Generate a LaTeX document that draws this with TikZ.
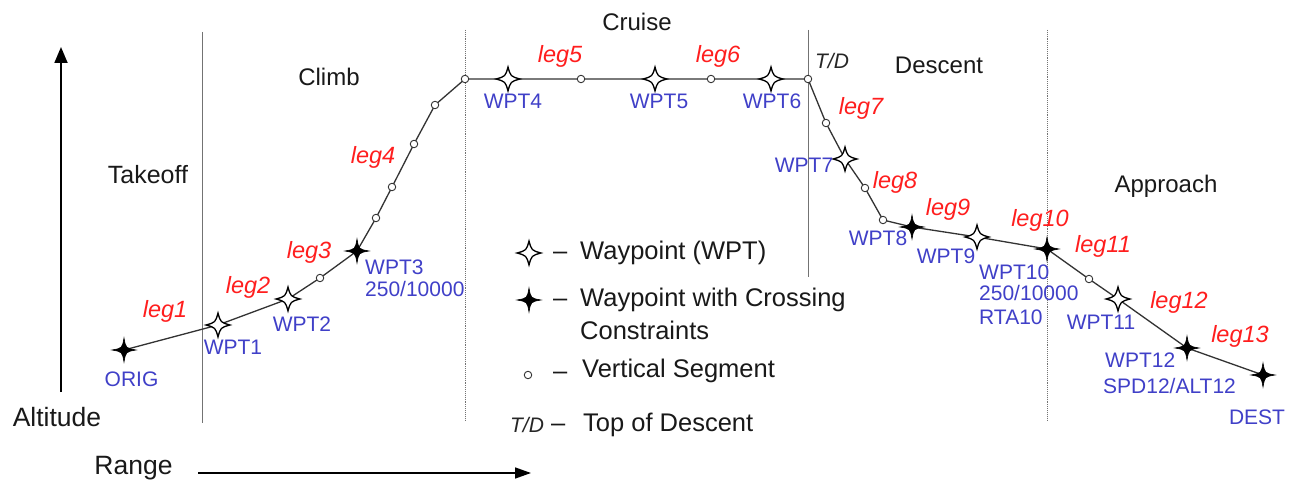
\documentclass[tikz,border=0pt]{standalone}
\usepackage{fontspec}
\setmainfont{Liberation Sans}
\usetikzlibrary{arrows.meta}
\definecolor{wblue}{RGB}{64,64,200}
\definecolor{lred}{RGB}{255,30,30}
\begin{document}
\begin{tikzpicture}[x=1pt,y=-1pt,
  route/.style={draw=black!80, line width=1.3pt},
  phase/.style={draw=black!55, line width=0.9pt},
  phasedot/.style={draw=black!55, line width=0.9pt, densely dotted},
  axisarrow/.style={draw=black, line width=1.8pt, -{Triangle[width=13pt,length=16pt]}},
  rangearrow/.style={draw=black, line width=1.5pt, -{Triangle[width=11pt,length=16pt]}},
  vseg/.style={circle, draw=black!80, fill=white, line width=0.9pt, inner sep=0pt, minimum size=7.5pt},
  phaselbl/.style={font=\fontsize{24}{28}\selectfont, text=black!90, inner sep=0pt},
  axislbl/.style={font=\fontsize{26.5}{30}\selectfont, text=black!90, inner sep=0pt},
  leglbl/.style={font=\fontsize{23.5}{27}\selectfont\itshape, text=lred, inner sep=0pt},
  wlbl/.style={font=\fontsize{21}{24}\selectfont, text=wblue, inner sep=0pt},
  keylbl/.style={font=\fontsize{25.5}{29}\selectfont, text=black!90, inner sep=0pt, anchor=west},
  keydash/.style={font=\fontsize{25.5}{29}\selectfont, text=black!90, inner sep=0pt, anchor=base west},
  tdlbl/.style={font=\fontsize{21}{24}\selectfont\itshape, text=black!85, inner sep=0pt},
  pics/openwpt/.style={code={
    \path[draw=black, fill=white, line width=1.3pt]
      (0,-12) .. controls (2.6,-2.6) .. (12,0) .. controls (2.6,2.6) .. (0,12)
      .. controls (-2.6,2.6) .. (-12,0) .. controls (-2.6,-2.6) .. cycle;}},
  pics/fullwpt/.style={code={
    \path[draw=black, fill=black, line width=0.6pt]
      (0,-12) .. controls (1.8,-1.8) .. (12,0) .. controls (1.8,1.8) .. (0,12)
      .. controls (-1.8,1.8) .. (-12,0) .. controls (-1.8,-1.8) .. cycle;}}
]
\fill[white] (0,0) rectangle (1291,484);
\useasboundingbox (0,0) rectangle (1291,484);

% phase separators
\coordinate (s1t) at (202,32);  \coordinate (s1b) at (202,423);
\coordinate (s2t) at (465,30);  \coordinate (s2b) at (465,420);
\coordinate (s3t) at (808,30);  \coordinate (s3b) at (808,277);
\coordinate (s4t) at (1047,30); \coordinate (s4b) at (1047,420);
\draw[phase] (s1t) -- (s1b);
\draw[phasedot] (s2t) -- (s2b);
\draw[phase] (s3t) -- (s3b);
\draw[phasedot] (s4t) -- (s4b);

% axes
\coordinate (ay0) at (61,392); \coordinate (ay1) at (61,47);
\coordinate (ax0) at (198,473); \coordinate (ax1) at (531,473);
\draw[axisarrow] (ay0) -- (ay1);
\draw[rangearrow] (ax0) -- (ax1);
\node[axislbl] (alt) at (57,417.5) {Altitude};
\node[axislbl] (rng) at (133.5,468) {Range};

% phase labels
\node[phaselbl, font=\fontsize{25}{29}\selectfont] (takeoff) at (148,174.5) {Takeoff};
\node[phaselbl] (climb) at (329,76.5) {Climb};
\node[phaselbl] (cruise) at (637,21.5) {Cruise};
\node[phaselbl] (descent) at (939,65) {Descent};
\node[phaselbl] (approach) at (1166,186) {Approach};
\node[tdlbl] (td) at (832,61) {T/D};

% route points
\coordinate (p0) at (124,350);
\coordinate (p1) at (218,325);
\coordinate (p2) at (288,299);
\coordinate (p3) at (320,278);
\coordinate (p4) at (357,251);
\coordinate (p5) at (376,218);
\coordinate (p6) at (392,187);
\coordinate (p7) at (414,144);
\coordinate (p8) at (435,105);
\coordinate (p9) at (465,79);
\coordinate (p10) at (508,79);
\coordinate (p11) at (581,79);
\coordinate (p12) at (655,79);
\coordinate (p13) at (711,79);
\coordinate (p14) at (771,79);
\coordinate (p15) at (808,79);
\coordinate (p16) at (826,123);
\coordinate (p17) at (845,159);
\coordinate (p18) at (865,188);
\coordinate (p19) at (883,220);
\coordinate (p20) at (912,227);
\coordinate (p21) at (977,237);
\coordinate (p22) at (1047,249);
\coordinate (p23) at (1089,279);
\coordinate (p24) at (1118,299);
\coordinate (p25) at (1187,348);
\coordinate (p26) at (1263,375);

\draw[route] (p0) -- (p1) -- (p2) -- (p3) -- (p4) -- (p5) -- (p6) -- (p7) -- (p8)
  -- (p9) -- (p10) -- (p11) -- (p12) -- (p13) -- (p14) -- (p15) -- (p16) -- (p17)
  -- (p18) -- (p19) -- (p20) -- (p21) -- (p22) -- (p23) -- (p24) -- (p25) -- (p26);

% vertical segment markers
\foreach \i in {3,5,6,7,8,9,11,13,15,16,18,19,23}{
  \node[vseg] (v\i) at (p\i) {};
}
% waypoints
\foreach \i in {1,2,10,12,14,17,21,24}{ \pic at (p\i) {openwpt}; }
\foreach \i in {0,4,20,22,25,26}{ \pic at (p\i) {fullwpt}; }

% waypoint labels
\node[wlbl] (lorig) at (131.5,379.5) {ORIG};
\node[wlbl] (l1) at (233,347) {WPT1};
\node[wlbl] (l2) at (302,324) {WPT2};
\node[wlbl, anchor=west] (l3a) at (365,267) {WPT3};
\node[wlbl, anchor=west] (l3b) at (365,289) {250/10000};
\node[wlbl] (l4) at (513,101) {WPT4};
\node[wlbl] (l5) at (659,101) {WPT5};
\node[wlbl] (l6) at (772,101) {WPT6};
\node[wlbl] (l7) at (804,165) {WPT7};
\node[wlbl] (l8) at (878,238) {WPT8};
\node[wlbl] (l9) at (946,256) {WPT9};
\node[wlbl, anchor=west] (l10a) at (979,272) {WPT10};
\node[wlbl, anchor=west] (l10b) at (979,293) {250/10000};
\node[wlbl, anchor=west] (l10c) at (979,317) {RTA10};
\node[wlbl] (l11) at (1101,322) {WPT11};
\node[wlbl, anchor=west] (l12a) at (1105,360) {WPT12};
\node[wlbl, anchor=west] (l12b) at (1103,386) {SPD12/ALT12};
\node[wlbl] (ldest) at (1257,417) {DEST};

% leg labels
\node[leglbl] (g1) at (165,311) {leg1};
\node[leglbl] (g2) at (248,287) {leg2};
\node[leglbl] (g3) at (309,252) {leg3};
\node[leglbl] (g4) at (373,157) {leg4};
\node[leglbl] (g5) at (560,56) {leg5};
\node[leglbl] (g6) at (718,56) {leg6};
\node[leglbl] (g7) at (861,108) {leg7};
\node[leglbl] (g8) at (895,182) {leg8};
\node[leglbl] (g9) at (948,209) {leg9};
\node[leglbl] (g10) at (1040,220) {leg10};
\node[leglbl] (g11) at (1103,246) {leg11};
\node[leglbl] (g12) at (1179,302) {leg12};
\node[leglbl] (g13) at (1240,336) {leg13};

% legend
\coordinate (k1) at (529,253);
\coordinate (k2) at (529,300);
\pic at (k1) {openwpt};
\pic at (k2) {fullwpt};
\node[vseg] (k3) at (528,375) {};
\node[tdlbl] (k4) at (527,425) {T/D};
\node[keydash] (d1) at (553,259.5) {–};
\node[keydash] (d2) at (553,306.5) {–};
\node[keydash] (d3) at (553,379) {–};
\node[keydash] (d4) at (551,431.5) {–};
\node[keylbl] (t1) at (580,253) {Waypoint (WPT)};
\node[keylbl] (t2) at (580,300) {Waypoint with Crossing};
\node[keylbl] (t2b) at (580,330) {Constraints};
\node[keylbl] (t3) at (582,371) {Vertical Segment};
\node[keylbl] (t4) at (583,425) {Top of Descent};
\end{tikzpicture}
\end{document}
